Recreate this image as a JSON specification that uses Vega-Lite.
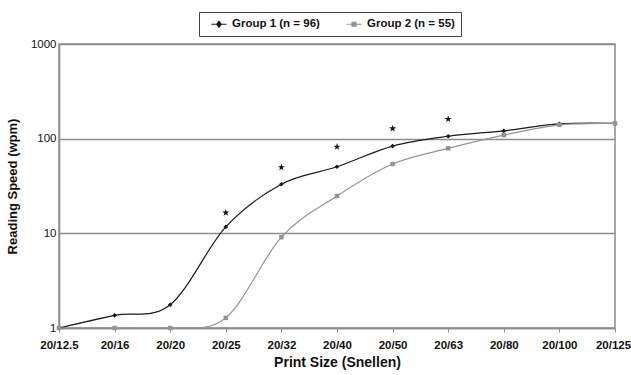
{
  "$schema": "https://vega.github.io/schema/vega-lite/v6.json",
  "width": 556,
  "height": 284,
  "autosize": {"type": "none"},
  "padding": {"left": 59, "top": 44, "right": 16, "bottom": 47},
  "background": "white",
  "config": {
    "font": "Liberation Sans",
    "view": {"stroke": "#8c8c8c", "strokeWidth": 1.5}
  },
  "datasets": {
    "series": [
      {"size": "20/12.5", "group": "Group 1 (n = 96)", "wpm": 1},
      {"size": "20/16", "group": "Group 1 (n = 96)", "wpm": 1.36},
      {"size": "20/20", "group": "Group 1 (n = 96)", "wpm": 1.76},
      {"size": "20/25", "group": "Group 1 (n = 96)", "wpm": 11.7},
      {"size": "20/32", "group": "Group 1 (n = 96)", "wpm": 33},
      {"size": "20/40", "group": "Group 1 (n = 96)", "wpm": 50.5},
      {"size": "20/50", "group": "Group 1 (n = 96)", "wpm": 83.5},
      {"size": "20/63", "group": "Group 1 (n = 96)", "wpm": 106},
      {"size": "20/80", "group": "Group 1 (n = 96)", "wpm": 121},
      {"size": "20/100", "group": "Group 1 (n = 96)", "wpm": 143},
      {"size": "20/125", "group": "Group 1 (n = 96)", "wpm": 145},
      {"size": "20/12.5", "group": "Group 2 (n = 55)", "wpm": 1},
      {"size": "20/16", "group": "Group 2 (n = 55)", "wpm": 1},
      {"size": "20/20", "group": "Group 2 (n = 55)", "wpm": 1},
      {"size": "20/25", "group": "Group 2 (n = 55)", "wpm": 1.28},
      {"size": "20/32", "group": "Group 2 (n = 55)", "wpm": 9.1},
      {"size": "20/40", "group": "Group 2 (n = 55)", "wpm": 24.8},
      {"size": "20/50", "group": "Group 2 (n = 55)", "wpm": 54},
      {"size": "20/63", "group": "Group 2 (n = 55)", "wpm": 79},
      {"size": "20/80", "group": "Group 2 (n = 55)", "wpm": 109},
      {"size": "20/100", "group": "Group 2 (n = 55)", "wpm": 140},
      {"size": "20/125", "group": "Group 2 (n = 55)", "wpm": 145}
    ],
    "stars": [
      {"size": "20/25", "wpm": 16.5},
      {"size": "20/32", "wpm": 49.8},
      {"size": "20/40", "wpm": 82},
      {"size": "20/50", "wpm": 128},
      {"size": "20/63", "wpm": 161}
    ]
  },
  "encoding": {
    "x": {
      "field": "size",
      "type": "ordinal",
      "scale": {
        "type": "point",
        "padding": 0,
        "domain": ["20/12.5", "20/16", "20/20", "20/25", "20/32", "20/40", "20/50", "20/63", "20/80", "20/100", "20/125"]
      },
      "axis": {
        "title": "Print Size (Snellen)",
        "titleFontSize": 14,
        "titleFontWeight": "bold",
        "titleColor": "#111",
        "titlePadding": 5,
        "labelAngle": 0,
        "labelFontSize": 11.5,
        "labelFontWeight": "bold",
        "labelColor": "#111",
        "labelPadding": 7,
        "labelOffset": {"condition": {"test": "datum.value === '20/125'", "value": -2}, "value": 0},
        "domainColor": "#8c8c8c",
        "domainWidth": 1.5,
        "tickColor": "#8c8c8c",
        "tickSize": 4,
        "grid": false
      }
    },
    "y": {
      "field": "wpm",
      "type": "quantitative",
      "scale": {"type": "log", "domain": [1, 1000], "nice": false},
      "axis": {
        "title": "Reading Speed (wpm)",
        "titleFontSize": 13,
        "titleFontWeight": "bold",
        "titleColor": "#111",
        "titlePadding": 11,
        "values": [1, 10, 100, 1000],
        "format": "d",
        "labelFontSize": 11.5,
        "labelColor": "#111",
        "labelPadding": 3,
        "domainColor": "#8c8c8c",
        "domainWidth": 1.5,
        "ticks": false,
        "grid": true,
        "gridColor": "#8c8c8c",
        "gridWidth": 1.5
      }
    },
    "color": {
      "field": "group",
      "type": "nominal",
      "scale": {"domain": ["Group 1 (n = 96)", "Group 2 (n = 55)"], "range": ["#1a1a1a", "#939393"]},
      "legend": {
        "title": null,
        "orient": "none",
        "legendX": 140,
        "legendY": -32,
        "direction": "horizontal",
        "strokeColor": "#444",
        "padding": 6,
        "labelFontSize": 11.5,
        "labelFontWeight": "bold",
        "labelColor": "#111",
        "columnPadding": 20,
        "symbolSize": 100,
        "symbolOffset": 8,
        "labelOffset": 7,
        "encode": {
          "symbols": {
            "update": {
              "shape": {"signal": "datum.value === 'Group 1 (n = 96)' ? 'M-1.5,0H1.5M0,-0.6L0.45,0L0,0.6L-0.45,0Z' : 'M-1.5,0H1.5M-0.4,-0.4H0.4V0.4H-0.4Z'"},
              "stroke": {"signal": "datum.value === 'Group 1 (n = 96)' ? '#1a1a1a' : '#939393'"},
              "fill": {"signal": "datum.value === 'Group 1 (n = 96)' ? '#1a1a1a' : '#939393'"},
              "strokeWidth": {"value": 1.2},
              "opacity": {"value": 1}
            }
          }
        }
      }
    }
  },
  "layer": [
    {
      "data": {"name": "series"},
      "mark": {"type": "line", "interpolate": "cardinal", "clip": true, "strokeWidth": 1.2}
    },
    {
      "data": {"name": "series"},
      "transform": [{"filter": "datum.group === 'Group 1 (n = 96)'"}],
      "mark": {"type": "point", "filled": true, "opacity": 1, "size": 22, "shape": "diamond"}
    },
    {
      "data": {"name": "series"},
      "transform": [{"filter": "datum.group === 'Group 2 (n = 55)'"}],
      "mark": {"type": "point", "filled": true, "opacity": 1, "size": 20, "shape": "square"}
    },
    {
      "data": {"name": "stars"},
      "mark": {
        "type": "point",
        "filled": true,
        "opacity": 1,
        "size": 55,
        "shape": "M0,-1L0.225,-0.309L0.951,-0.309L0.363,0.118L0.588,0.809L0,0.382L-0.588,0.809L-0.363,0.118L-0.951,-0.309L-0.225,-0.309Z"
      },
      "encoding": {"color": {"value": "#111"}}
    }
  ]
}
